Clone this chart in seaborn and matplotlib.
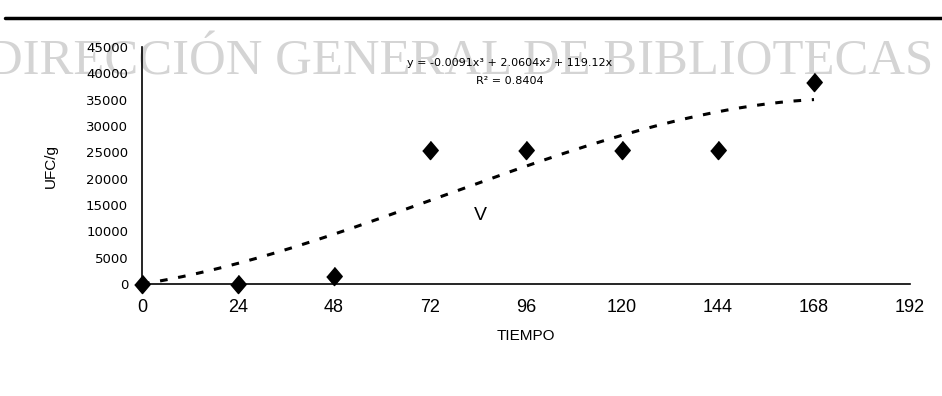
import numpy as np
import pandas as pd
import matplotlib
matplotlib.use("Agg")
import matplotlib.pyplot as plt
import seaborn as sns

# values
tiempo = [0, 24, 48, 72, 96, 120, 144, 168]
ufc = [0, 0, 1500, 25500, 25500, 25500, 25500, 38300]
# trendline coefficients as printed (x^3, x^2, x, const)
coefs = [-0.0091, 2.0604, 119.12, 0.0]
x_ticks = [0, 24, 48, 72, 96, 120, 144, 168, 192]
y_ticks = [0, 5000, 10000, 15000, 20000, 25000, 30000, 35000, 40000, 45000]

eq_text = "y = -0.0091x³ + 2.0604x² + 119.12x"
r2_text = "R² = 0.8404"

sns.set_style("white", {"text.color": "black", "axes.labelcolor": "black",
                        "xtick.color": "black", "ytick.color": "black"})
plt.rcParams["font.family"] = ["DejaVu Sans"]

df = pd.DataFrame({"TIEMPO": tiempo, "UFC/g": ufc})
xs = np.linspace(0, tiempo[-1], 200)
trend = pd.DataFrame({"x": xs, "y": np.polyval(coefs, xs)})

fig = plt.figure(figsize=(9.42, 3.96), dpi=100)
ax = fig.add_axes([142 / 942, 1 - 284 / 396, (910 - 142) / 942, (284 - 47) / 396])
ax.set_zorder(2)
ax.patch.set_alpha(0)

# watermark and top rule from the scanned page
fig.text(0.488, 1 - 62 / 396, "DIRECCIÓN GENERAL DE BIBLIOTECAS",
         family=["Liberation Serif", "DejaVu Serif"], fontsize=36.5,
         color="#d4d4d4", ha="center", va="center", zorder=0)
fig.add_artist(plt.Line2D([0.005, 1.0], [1 - 18 / 396] * 2, color="black", lw=2.5))

sns.lineplot(data=trend, x="x", y="y", ax=ax, color="black", lw=2.2,
             dashes=False, linestyle=(0, (2.5, 3.5)))
diamond = [(0, 1), (0.85, 0), (0, -1), (-0.85, 0)]
sns.scatterplot(data=df, x="TIEMPO", y="UFC/g", ax=ax, marker=diamond, s=170,
                color="black", edgecolor="black", zorder=5, clip_on=False)

ax.set_xlim(0, 192)
ax.set_ylim(0, 45000)
ax.set_xticks(x_ticks)
ax.set_yticks(y_ticks)
ax.set_xticklabels([str(t) for t in x_ticks],
                   family=["Liberation Sans", "DejaVu Sans"], fontsize=13)
ax.set_yticklabels([str(t) for t in y_ticks], fontsize=9.5)
ax.tick_params(axis="x", length=0, pad=11)
ax.tick_params(axis="y", direction="out", length=4, width=1, pad=6)

ax.set_xlabel("TIEMPO", family=["Liberation Sans", "DejaVu Sans"],
              fontsize=11, labelpad=9)
ax.set_ylabel("UFC/g", family=["Liberation Sans", "DejaVu Sans"], fontsize=11,
              labelpad=20)

sns.despine(ax=ax)
for side in ["left", "bottom"]:
    ax.spines[side].set_color("black")
    ax.spines[side].set_linewidth(1.2)

ax.text(92, 41900, eq_text, fontsize=8, ha="center", va="center")
ax.text(92, 38500, r2_text, fontsize=8, ha="center", va="center")
ax.text(84.5, 13100, "V", family=["Liberation Sans", "DejaVu Sans"],
        fontsize=14, ha="center", va="center")

fig.savefig("out.png", dpi=100)
